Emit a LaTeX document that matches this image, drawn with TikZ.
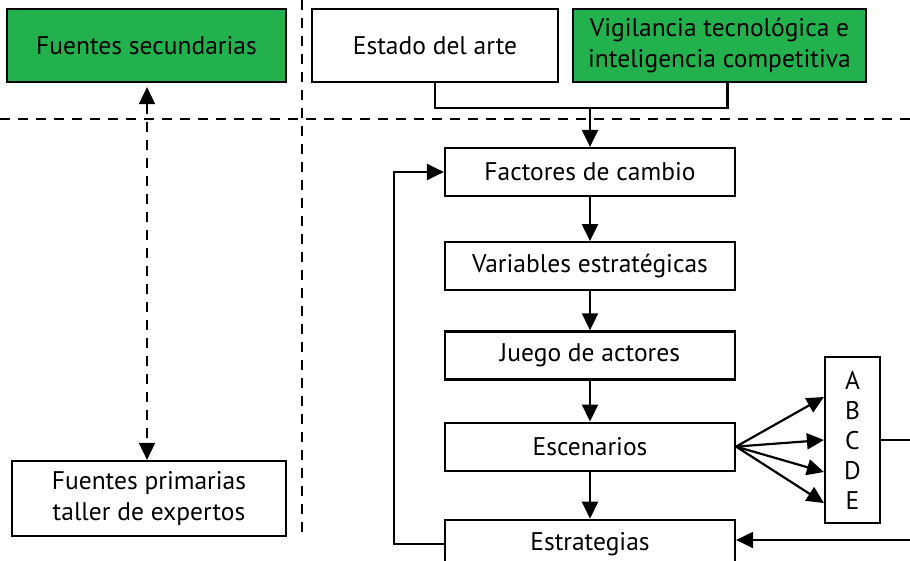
\documentclass[tikz,border=0pt]{standalone}
\usepackage{fontspec}
\setmainfont{PT Sans}
\usetikzlibrary{positioning, calc, arrows.meta}
\definecolor{verde}{RGB}{34,177,76}
\tikzset{caja/.style={draw, line width=2.2pt, minimum width=290pt, minimum height=48pt, inner sep=0pt, align=center, font=\fontsize{25.5}{31}\selectfont}}
\tikzset{cajatop/.style={caja, minimum height=73pt}}
\tikzset{punta/.style={-{Triangle[length=17pt, width=16pt]}}}
\tikzset{arr/.style={draw, line width=2.2pt, punta}}
\tikzset{guion/.style={line width=1.8pt, dash pattern=on 10pt off 8pt}}

\begin{document}
\begin{tikzpicture}[x=1pt, y=-1pt]
			\useasboundingbox (0,0) rectangle (910,560);
			\node[cajatop, fill=verde, minimum width=279pt] (fsec) at (146.5,45.5) {Fuentes secundarias};
			\node[cajatop, minimum width=246pt] (arte) at (435,45.5) {Estado del arte};
			\node[cajatop, fill=verde, minimum width=293pt] (vig) at (719.5,45.5) {Vigilancia tecnológica e\\inteligencia competitiva};
			\node[caja, minimum width=274pt, minimum height=75pt] (fpri) at (149,498.5) {Fuentes primarias\\taller de expertos};
			%
			\node[caja] (fact) at (590,172) {Factores de cambio};
			\node[caja, below=44pt of fact] (var) {Variables estratégicas};
			\node[caja, below=39pt of var] (juego) {Juego de actores};
			\node[caja, below=41pt of juego] (esc) {Escenarios};
			\node[caja, below=47pt of esc] (estr) {Estrategias};
			\node[caja, minimum width=55pt, minimum height=166pt, font=\fontsize{25.5}{30}\selectfont] (abc) at (852.5,440) {A\\B\\C\\D\\E};
			%
			\draw[guion] (0,119) -- (910,119);
			\draw[guion] (302,0) -- (302,535);
			\draw[guion, {Triangle[length=17pt, width=16pt]}-{Triangle[length=17pt, width=16pt]}] (fsec.south -| 147,0) ++(0,4) -- (fpri.north -| 147,0);
			%
			\draw[line width=2.2pt] (arte.south) -- ++(0,25) -| ($(vig.south) + (8,0)$);
			\draw[arr] (590,107) -- (fact.north);
			\draw[arr] (fact) -- (var);
			\draw[arr] (var) -- (juego);
			\draw[arr] (juego) -- (esc);
			\draw[arr] (esc) -- (estr);
			\draw[arr] (estr.west) -- ++(-50,0) |- (fact.west);
			%
			\foreach \y in {397,440,472,503}
				\draw[arr] (esc.east) -- (abc.west |- 0,\y);
			\draw[line width=2.2pt] (abc.east) -- (910,440);
			\draw[arr] (910,540) -- (estr.east |- 0,540);
\end{tikzpicture}
\end{document}
